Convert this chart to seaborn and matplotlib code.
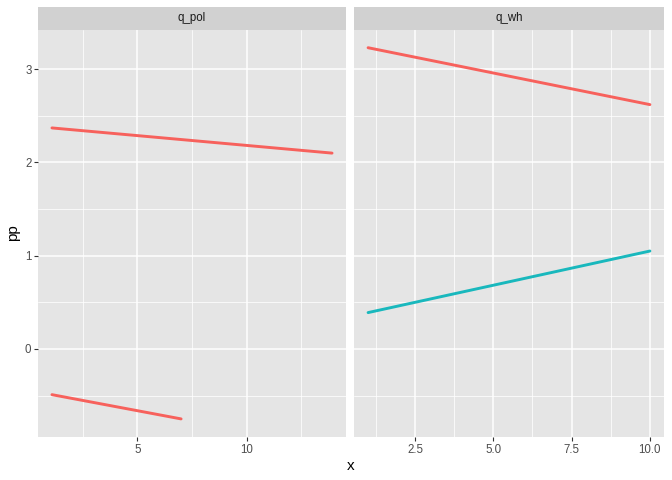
import matplotlib
matplotlib.use("Agg")
import matplotlib.pyplot as plt
import seaborn as sns
import pandas as pd
import numpy as np

sns.set_theme(style="ticks")
plt.rcParams['font.family'] = ['Liberation Sans', 'DejaVu Sans']

# data
panels = ["q_pol", "q_pol", "q_wh", "q_wh"]
groups = ["a", "a", "a", "b"]
line_ids = ["pol1", "pol2", "wh1", "wh2"]
x_start = [1.08, 1.08, 1, 1]
x_end = [13.92, 7, 10, 10]
y_start = [2.37, -0.49, 3.23, 0.39]
y_end = [2.10, -0.75, 2.62, 1.05]

rows = []
for p, g, l, xs, xe, ys, ye in zip(panels, groups, line_ids, x_start, x_end, y_start, y_end):
    rows.append(dict(panel=p, grp=g, line=l, x=xs, pp=ys))
    rows.append(dict(panel=p, grp=g, line=l, x=xe, pp=ye))
df = pd.DataFrame(rows)

palette = {"a": "#F7615C", "b": "#19B8BD"}

W, H = 672, 480
fig = plt.figure(figsize=(6.72, 4.8), dpi=100)

def fx(px):
    return px / W

def fy(py):
    return 1 - py / H

ylim = (-0.944, 3.42)
panel_specs = [
    ("q_pol", 38, 346, (0.44, 14.56), [5, 10], ["5", "10"], [2.5, 7.5, 12.5]),
    ("q_wh", 354, 664, (0.55, 10.45), [2.5, 5.0, 7.5, 10.0], ["2.5", "5.0", "7.5", "10.0"], [1.25, 3.75, 6.25, 8.75]),
]
ptop, pbot = 30, 437
strip_top = 7
gray_txt = "#4D4D4D"

for i, (name, x0, x1, xlim, xt, xtl, xminor) in enumerate(panel_specs):
    ax = fig.add_axes([fx(x0), fy(pbot), fx(x1 - x0), (pbot - ptop) / H])
    ax.set_facecolor("#E5E5E5")
    ax.set_xlim(*xlim)
    ax.set_ylim(*ylim)
    for v in xminor:
        ax.axvline(v, color="white", lw=0.55, zorder=0)
    for v in [-0.5, 0.5, 1.5, 2.5]:
        ax.axhline(v, color="white", lw=0.55, zorder=0)
    for v in xt:
        ax.axvline(v, color="white", lw=1.1, zorder=0)
    for v in [0, 1, 2, 3]:
        ax.axhline(v, color="white", lw=1.1, zorder=0)
    sub = df[df.panel == name]
    sns.lineplot(data=sub, x="x", y="pp", hue="grp", units="line", estimator=None,
                 palette=palette, lw=2.1, ax=ax, legend=False, zorder=3)
    ax.set_xlim(*xlim)
    ax.set_ylim(*ylim)
    ax.set_xticks(xt)
    ax.set_xticklabels(xtl)
    ax.tick_params(axis="both", length=2.7, width=0.8, color="#333333",
                   labelsize=8.3, labelcolor=gray_txt, pad=2)
    if i == 0:
        ax.set_yticks([0, 1, 2, 3])
        ax.set_yticklabels(["0", "1", "2", "3"])
    else:
        ax.set_yticks([])
    for s in ax.spines.values():
        s.set_visible(False)
    ax.set_xlabel("")
    ax.set_ylabel("")
    # strip
    sax = fig.add_axes([fx(x0), fy(ptop), fx(x1 - x0), (ptop - strip_top) / H])
    sax.set_facecolor("#D1D1D1")
    sax.set_xticks([])
    sax.set_yticks([])
    for s in sax.spines.values():
        s.set_visible(False)
    sax.text(0.5, 0.5, name, ha="center", va="center", fontsize=8.3, color="#1A1A1A",
             transform=sax.transAxes)

fig.text(fx(351), fy(466), "x", ha="center", va="center", fontsize=11, color="black")
fig.text(fx(13), fy(233), "pp", ha="center", va="center", fontsize=11, rotation=90, color="black")

fig.savefig("out.png", dpi=100, facecolor="white")
